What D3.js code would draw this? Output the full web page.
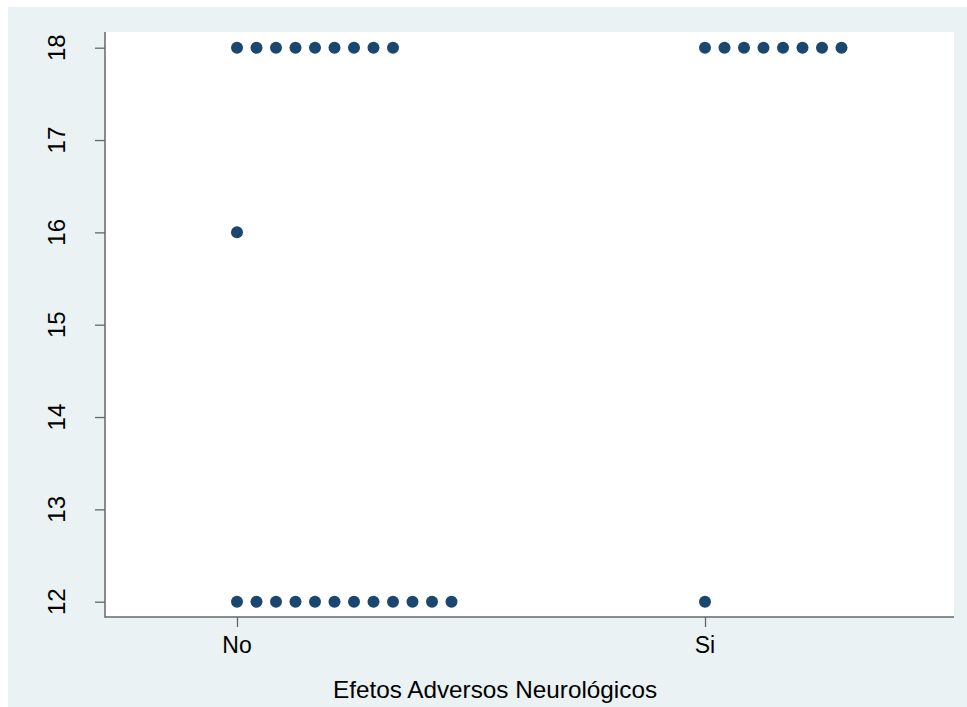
<!DOCTYPE html>
<html>
<head>
<meta charset="utf-8">
<script src="https://cdn.jsdelivr.net/npm/d3@7"></script>
<style>
  html, body { margin: 0; padding: 0; background: #ffffff; }
  svg { display: block; }
  text { font-family: "Liberation Sans", Arial, sans-serif; fill: #000; }
</style>
</head>
<body>
<script>
// ---- data ----
const categories = ["No", "Si"];
const yLevels = [12, 16, 18];
const countsNo = [12, 1, 9];   // observations at 12, 16, 18
const countsSi = [1, 0, 8];
const yTicks = [12, 13, 14, 15, 16, 17, 18];
const xTitle = "Efetos Adversos Neurológicos";

const W = 967, H = 707;
const outer = { x: 8, y: 7, w: 959, h: 700 };
const plot = { left: 105, right: 954, top: 32, bottom: 617 };
const dotStep = 19.5, dotR = 6;

const svg = d3.select("body").append("svg").attr("width", W).attr("height", H);

svg.append("rect").attr("x", outer.x).attr("y", outer.y)
  .attr("width", outer.w).attr("height", outer.h).attr("fill", "#eaf2f3");
svg.append("rect").attr("x", plot.left).attr("y", plot.top)
  .attr("width", plot.right - plot.left).attr("height", plot.bottom - plot.top).attr("fill", "#ffffff");

const x = d3.scalePoint().domain(categories).range([237, 705]);
const y = d3.scaleLinear().domain([12, 18]).range([601.7, 47.7]);

// y axis
const yAxis = svg.append("g").attr("transform", `translate(${plot.left},0)`)
  .call(d3.axisLeft(y).tickValues(yTicks).tickSize(10).tickSizeOuter(0).tickFormat(d3.format("d")));
yAxis.select(".domain").remove();
yAxis.selectAll(".tick line").attr("stroke", "#666").attr("stroke-width", 1.3);
yAxis.selectAll(".tick text").remove();
svg.append("line").attr("x1", plot.left).attr("x2", plot.left)
  .attr("y1", plot.top).attr("y2", plot.bottom + 0.7).attr("stroke", "#666").attr("stroke-width", 1.5);
svg.append("g").selectAll("text").data(yTicks).join("text")
  .attr("transform", d => `translate(65,${y(d)}) rotate(-90)`)
  .attr("text-anchor", "middle").attr("font-size", 24).text(d => d);

// x axis
const xAxis = svg.append("g").attr("transform", `translate(0,${plot.bottom})`)
  .call(d3.axisBottom(x).tickSize(10).tickSizeOuter(0));
xAxis.select(".domain").remove();
xAxis.selectAll(".tick line").attr("stroke", "#666").attr("stroke-width", 1.3);
xAxis.selectAll(".tick text").remove();
svg.append("line").attr("x1", plot.left).attr("x2", plot.right)
  .attr("y1", plot.bottom).attr("y2", plot.bottom).attr("stroke", "#666").attr("stroke-width", 1.5);
svg.append("g").selectAll("text").data(categories).join("text")
  .attr("x", d => x(d)).attr("y", 653).attr("text-anchor", "middle")
  .attr("font-size", 23).text(d => d);

svg.append("text").attr("x", 495).attr("y", 698).attr("text-anchor", "middle")
  .attr("font-size", 24.3).text(xTitle);

// dots
const points = [];
[countsNo, countsSi].forEach((counts, ci) => {
  counts.forEach((n, li) => {
    for (let i = 0; i < n; i++) points.push({ cat: categories[ci], val: yLevels[li], idx: i });
  });
});
svg.append("g").selectAll("circle").data(points).join("circle")
  .attr("cx", d => x(d.cat) + d.idx * dotStep)
  .attr("cy", d => y(d.val))
  .attr("r", dotR)
  .attr("fill", "#1a476f");
</script>
</body>
</html>
